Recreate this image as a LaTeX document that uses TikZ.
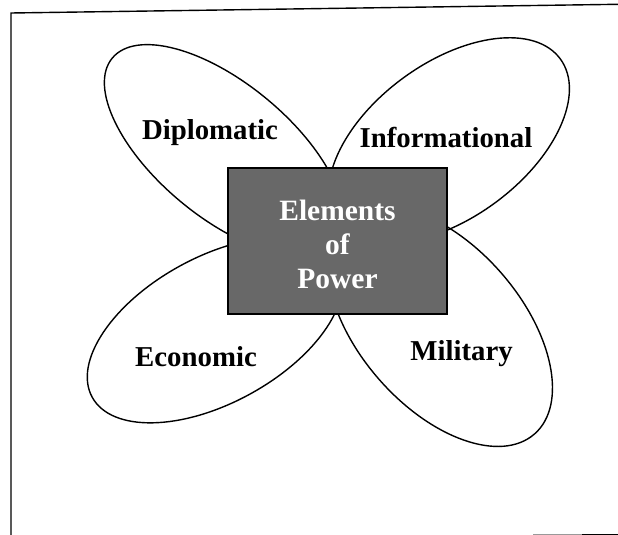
\documentclass[tikz,border=0pt]{standalone}
\usepackage{fontspec}
\setmainfont{Liberation Serif}
\usetikzlibrary{shapes.geometric}
\definecolor{halftone}{HTML}{686868}
\tikzset{
  petal/.style={ellipse, draw=black, line width=1.4pt, inner sep=0pt},
  petallabel/.style={font=\fontsize{28.8}{34}\selectfont\bfseries, inner sep=0pt},
  corebox/.style={rectangle, draw=black, line width=1.6pt, fill=halftone,
    minimum width=219pt, minimum height=146pt, inner sep=0pt},
  coretext/.style={font=\fontsize{29.5}{34}\selectfont\bfseries, text=white,
    align=center, inner sep=0pt},
  frameline/.style={line width=1.4pt, black}
}
\begin{document}
\begin{tikzpicture}[x=1pt, y=-1pt]
\useasboundingbox (0,0) rectangle (618,535);
% frame
\coordinate (fbl) at (11,535);
\coordinate (ftl) at (11,13);
\coordinate (ftr) at (618,4.3);
\draw[frameline] (fbl) -- (ftl) -- (ftr);
\coordinate (b1) at (533,534);
\coordinate (b2) at (582,534);
\coordinate (b3) at (618,534);
\draw[line width=1pt, black!40] (b1) -- (b2);
\draw[line width=1pt, black] (b2) -- (b3);
% petals
\node[petal, minimum width=290pt, minimum height=134pt, rotate=-39.6] (dip) at (224,150.5) {};
\node[petal, minimum width=276pt, minimum height=155pt, rotate=36.2] (inf) at (449,140.5) {};
\node[petal, minimum width=280pt, minimum height=146pt, rotate=28.7] (eco) at (215,330) {};
\node[petal, minimum width=287pt, minimum height=162pt, rotate=-48.8] (mil) at (440,326) {};
% centre box
\node[corebox] (core) at (337.5,241) {};
\node[coretext] (coretxt) at (337.5,244) {Elements\\of\\Power};
% labels
\node[petallabel] (diplab) at (210,133) {Diplomatic};
\node[petallabel] (inflab) at (446,138) {Informational};
\node[petallabel] (ecolab) at (196,357) {Economic};
\node[petallabel] (millab) at (461.5,354) {Military};
\end{tikzpicture}
\end{document}
